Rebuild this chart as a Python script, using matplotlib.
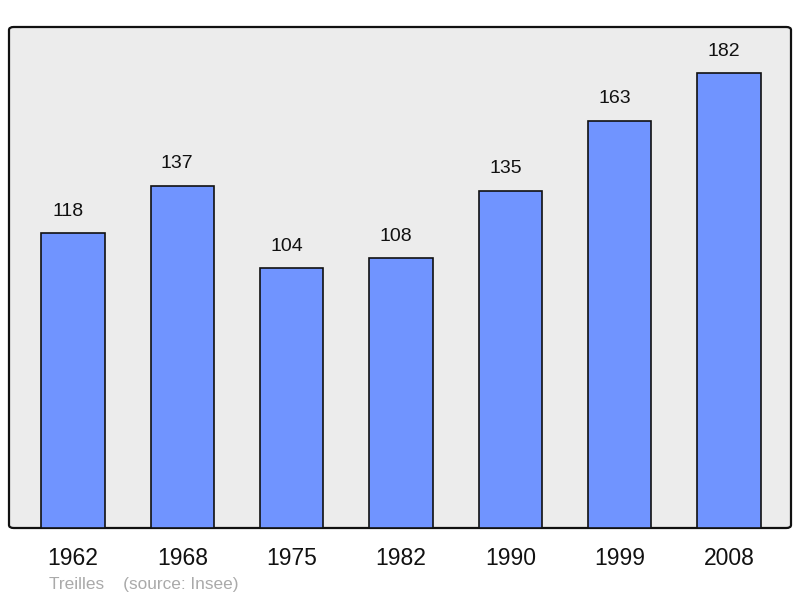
import matplotlib
matplotlib.use("Agg")
import matplotlib.pyplot as plt
from matplotlib.patches import FancyBboxPatch

years = ["1962", "1968", "1975", "1982", "1990", "1999", "2008"]
population = [118, 137, 104, 108, 135, 163, 182]

plt.rcParams['font.family'] = ['Liberation Sans', 'DejaVu Sans']

fig = plt.figure(figsize=(8, 5.98), dpi=100)
ax = fig.add_axes([9/800, 70/598, 782/800, 501/598])
ax.set_facecolor('none')
for s in ax.spines.values():
    s.set_visible(False)

bg = FancyBboxPatch((0, 0), 1, 1, boxstyle="round,pad=0,rounding_size=0.006",
                    transform=ax.transAxes, facecolor='#ececec', edgecolor='#111111',
                    linewidth=1.6, zorder=0, clip_on=False)
ax.add_patch(bg)

x = list(range(len(years)))
ax.bar(x, population, width=0.58, color='#7094ff', edgecolor='#111111',
       linewidth=1.2, zorder=2)
for xi, v in zip(x, population):
    ax.annotate(str(v), (xi, v), xytext=(-3.6, 15.5), textcoords='offset points',
                ha='center', va='center', fontsize=14, color='#111111')

ax.set_xlim(-0.585, 6.567)
ax.set_ylim(0, 200.4)
ax.set_xticks(x)
ax.set_xticklabels(years, fontsize=16.5, color='#111111')
ax.tick_params(axis='x', length=0, pad=14)
ax.set_yticks([])

fig.text(49/800, 1 - 584/598, "Treilles    (source: Insee)", fontsize=12.4,
         color='#aaaaaa', ha='left', va='center')

fig.savefig("out.png", dpi=100)
